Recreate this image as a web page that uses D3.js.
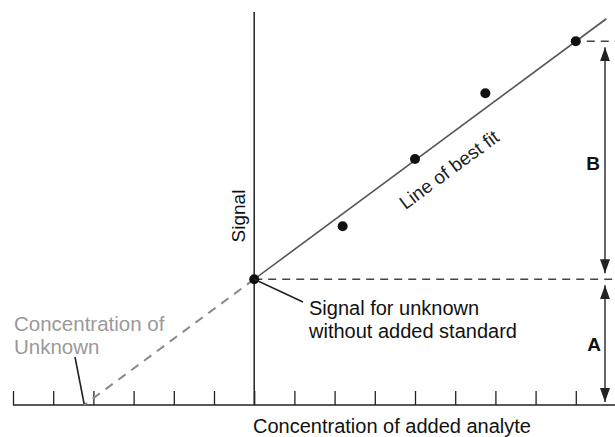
<!DOCTYPE html>
<html lang="en">
<head>
	<meta charset="utf-8">
	<title>Standard addition plot</title>
	<script src="https://d3js.org/d3.v7.min.js"></script>
	<style>
		body { margin: 0; background: #fff; }
		text { font-family: "Liberation Sans", Arial, sans-serif; }
	</style>
</head>
<body>
	<script>
		// concentration of added standard (tick units) and measured signal
		var addedConc = [0, 2.2, 4, 5.75, 8];
		var signal = [3.13, 4.45, 6.12, 7.76, 9.05];
		// x-axis tick positions, the y-axis sits at 0
		var tickValues = [-6, -5, -4, -3, -2, -1, 0, 1, 2, 3, 4, 5, 6, 7, 8];
		// line of best fit
		var fitIntercept = 3.13;
		var fitSlope = 0.74;
		var fitEndX = 8.76;

		var width = 615, height = 437;
		var svg = d3.select("body").append("svg")
			.attr("width", width)
			.attr("height", height);

		// 0 on the x scale is the signal axis
		var x = d3.scaleLinear().domain([-6, 9]).range([13, 616]);
		var y = d3.scaleLinear().domain([0, 9.78]).range([405, 12]);
		var fit = function(c) { return fitIntercept + fitSlope * c; };
		var xIntercept = -fitIntercept / fitSlope;

		// arrow heads
		var defs = svg.append("defs");
		defs.append("marker")
			.attr("id", "head")
			.attr("viewBox", "0 0 14 10")
			.attr("refX", 14).attr("refY", 5)
			.attr("markerWidth", 14).attr("markerHeight", 10)
			.attr("markerUnits", "userSpaceOnUse")
			.attr("orient", "auto-start-reverse")
			.append("path")
			.attr("d", "M0,0 L14,5 L0,10 Z")
			.attr("fill", "#222");

		// x axis with upward ticks
		var xAxis = d3.axisBottom(x)
			.tickValues(tickValues)
			.tickSizeInner(-14)
			.tickSizeOuter(0)
			.tickFormat("");
		var gx = svg.append("g")
			.attr("transform", "translate(0," + y(0) + ")")
			.call(xAxis);
		gx.select(".domain").attr("d", "M" + x(-6) + ",0H615").attr("stroke", "#222").attr("stroke-width", 1.5);
		gx.selectAll(".tick line").attr("stroke", "#222").attr("stroke-width", 1.3);

		// y axis (signal)
		svg.append("line")
			.attr("x1", x(0)).attr("x2", x(0))
			.attr("y1", y(9.78)).attr("y2", y(0))
			.attr("stroke", "#222").attr("stroke-width", 1.5);

		// extrapolated part of the fit, down to the x axis
		svg.append("line")
			.attr("x1", x(0)).attr("y1", y(fit(0)))
			.attr("x2", x(xIntercept)).attr("y2", y(0))
			.attr("stroke", "#8a8a8a").attr("stroke-width", 2)
			.attr("stroke-dasharray", "9,7");

		// line of best fit
		svg.append("line")
			.attr("x1", x(0)).attr("y1", y(fit(0)))
			.attr("x2", x(fitEndX)).attr("y2", y(fit(fitEndX)))
			.attr("stroke", "#555").attr("stroke-width", 1.6);

		// dashed reference levels
		svg.append("line")
			.attr("x1", x(0)).attr("x2", width)
			.attr("y1", y(signal[0])).attr("y2", y(signal[0]))
			.attr("stroke", "#444").attr("stroke-width", 1.5)
			.attr("stroke-dasharray", "8,6");
		svg.append("line")
			.attr("x1", x(addedConc[4]) + 11).attr("x2", width)
			.attr("y1", y(signal[4])).attr("y2", y(signal[4]))
			.attr("stroke", "#444").attr("stroke-width", 1.5)
			.attr("stroke-dasharray", "8,6");

		// data points
		svg.selectAll("circle.pt")
			.data(addedConc)
			.enter().append("circle")
			.attr("class", "pt")
			.attr("cx", function(d) { return x(d); })
			.attr("cy", function(d, i) { return y(signal[i]); })
			.attr("r", 5)
			.attr("fill", "#111");

		// double arrows B and A
		var arrowX = 605;
		svg.append("line")
			.attr("x1", arrowX).attr("x2", arrowX)
			.attr("y1", y(signal[4]) + 6).attr("y2", y(signal[0]) - 6)
			.attr("stroke", "#333").attr("stroke-width", 1.5)
			.attr("marker-start", "url(#head)").attr("marker-end", "url(#head)");
		svg.append("line")
			.attr("x1", arrowX).attr("x2", arrowX)
			.attr("y1", y(signal[0]) + 6).attr("y2", y(0) - 3)
			.attr("stroke", "#333").attr("stroke-width", 1.5)
			.attr("marker-start", "url(#head)").attr("marker-end", "url(#head)");

		svg.append("text")
			.attr("x", 593).attr("y", 163.5)
			.attr("dy", "0.36em")
			.attr("text-anchor", "middle")
			.attr("font-size", 19).attr("font-weight", "bold")
			.attr("fill", "#111")
			.text("B");
		svg.append("text")
			.attr("x", 594).attr("y", 344.5)
			.attr("dy", "0.36em")
			.attr("text-anchor", "middle")
			.attr("font-size", 19).attr("font-weight", "bold")
			.attr("fill", "#111")
			.text("A");

		// labels
		svg.append("text")
			.attr("transform", "translate(245,216) rotate(-90)")
			.attr("text-anchor", "middle")
			.attr("font-size", 19)
			.attr("fill", "#111")
			.text("Signal");

		var angle = Math.atan((y(fit(0)) - y(fit(1))) / (x(1) - x(0))) * 180 / Math.PI;
		svg.append("text")
			.attr("transform", "translate(453,175) rotate(" + (-angle) + ")")
			.attr("text-anchor", "middle")
			.attr("font-size", 19)
			.attr("fill", "#222")
			.text("Line of best fit");

		// callout for the unknown's signal
		svg.append("line")
			.attr("x1", x(0)).attr("y1", y(signal[0]))
			.attr("x2", 303).attr("y2", 302)
			.attr("stroke", "#222").attr("stroke-width", 1.6);
		svg.append("text")
			.attr("x", 309).attr("y", 315)
			.attr("font-size", 20)
			.attr("fill", "#111")
			.text("Signal for unknown");
		svg.append("text")
			.attr("x", 309).attr("y", 338)
			.attr("font-size", 20)
			.attr("fill", "#111")
			.text("without added standard");

		// callout for the concentration of unknown
		svg.append("line")
			.attr("x1", 75).attr("y1", 357)
			.attr("x2", x(xIntercept)).attr("y2", y(0) - 1)
			.attr("stroke", "#222").attr("stroke-width", 1.6);
		svg.append("text")
			.attr("x", 14).attr("y", 331)
			.attr("font-size", 20.5)
			.attr("fill", "#999")
			.text("Concentration of");
		svg.append("text")
			.attr("x", 14).attr("y", 354)
			.attr("font-size", 20.5)
			.attr("fill", "#999")
			.text("Unknown");

		svg.append("text")
			.attr("x", 253).attr("y", 433)
			.attr("font-size", 20)
			.attr("fill", "#111")
			.text("Concentration of added analyte");
	</script>
</body>
</html>
